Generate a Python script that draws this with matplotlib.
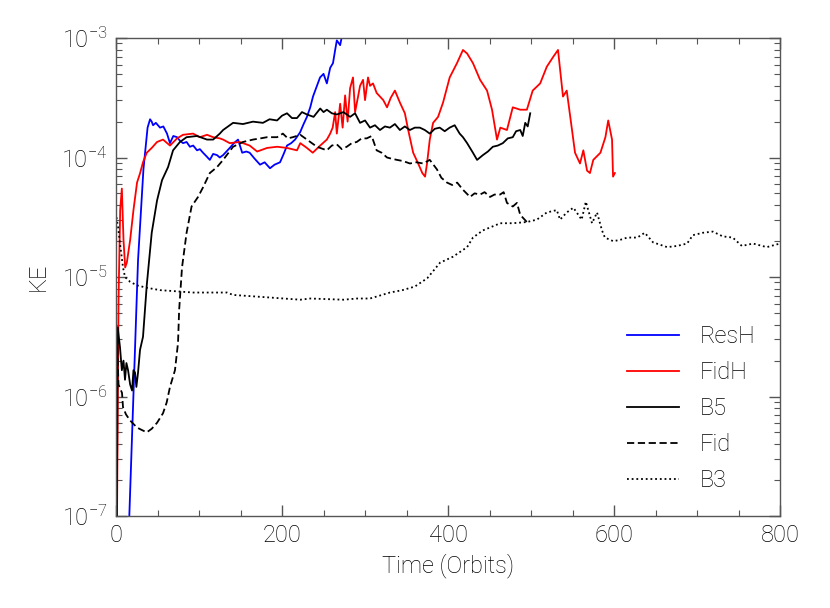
import numpy as np
import matplotlib
matplotlib.use("Agg")
import matplotlib.pyplot as plt

# time in orbits, KE given as log10 values
resh_t = [14, 16, 26.5, 33, 38, 41, 43, 44.6, 48, 53, 57, 61.4, 65, 69, 73.5, 77, 80.7,
          85, 89, 93, 97.6, 101, 104.8, 109, 113, 117, 121.7, 125, 129, 133, 137, 142,
          147, 152, 157, 161, 167, 173.5, 179, 185.5, 191, 197.6, 202, 206, 211, 215.7,
          221.7, 226, 230, 234, 237.3, 241, 245.8, 250, 254, 258, 261.4, 264, 266, 270, 276, 285]
resh_log = [-7.3, -7.0, -4.86, -4.1, -3.75, -3.68, -3.70, -3.73, -3.71, -3.75, -3.74, -3.80,
            -3.88, -3.82, -3.83, -3.86, -3.88, -3.87, -3.91, -3.90, -3.94, -3.93, -3.96,
            -3.99, -4.02, -3.97, -3.98, -4.00, -3.98, -3.95, -3.92, -3.88, -3.85, -3.96,
            -3.95, -3.96, -4.01, -4.06, -4.04, -4.09, -4.06, -4.04, -3.97, -3.90, -3.88,
            -3.85, -3.79, -3.72, -3.66, -3.58, -3.49, -3.42, -3.33, -3.30, -3.38, -3.25,
            -3.21, -3.10, -3.02, -3.06, -2.85, -2.7]

fidh_t = [1, 3, 5, 7, 9, 11, 13, 17, 21, 25.3, 29, 32.5, 37, 43, 49.4, 56.6, 65, 73.5,
          80.7, 92.8, 101, 109.6, 116.9, 125, 129, 137, 149, 161, 170, 182, 194, 206, 218,
          222, 230, 237, 246, 254, 258, 261, 264, 266, 270, 273, 276, 279, 282, 285.5,
          288, 291.6, 294, 297.6, 300, 303.6, 306, 309.6, 314, 318, 322, 326.5, 331, 336,
          342, 348, 352, 358, 364, 369, 372.3, 374.7, 378, 382, 388, 394, 402, 410.8, 418,
          423, 430, 438.6, 447, 453, 459, 463, 471, 478, 487, 495, 502, 511, 519, 526.5,
          532.5, 538.5, 543, 549, 553, 559, 563, 567.5, 571, 575, 583.6, 589.6, 593, 597.6,
          598.8, 601]
fidh_log = [-7.2, -5.2, -4.44, -4.26, -4.69, -4.92, -4.88, -4.69, -4.44, -4.21, -4.13, -4.04,
            -3.96, -3.92, -3.87, -3.85, -3.90, -3.84, -3.81, -3.80, -3.83, -3.81, -3.83,
            -3.84, -3.85, -3.88, -3.87, -3.90, -3.95, -3.92, -3.91, -3.92, -3.94, -3.88,
            -3.92, -3.96, -3.90, -3.85, -3.80, -3.75, -3.62, -3.80, -3.55, -3.75, -3.48,
            -3.70, -3.42, -3.33, -3.62, -3.49, -3.40, -3.35, -3.52, -3.33, -3.40, -3.38,
            -3.46, -3.49, -3.52, -3.58, -3.50, -3.44, -3.54, -3.63, -3.77, -3.96, -4.05,
            -4.13, -4.16, -4.05, -3.85, -3.71, -3.66, -3.54, -3.33, -3.21, -3.10, -3.13,
            -3.21, -3.35, -3.44, -3.60, -3.85, -3.75, -3.77, -3.58, -3.60, -3.60, -3.44,
            -3.38, -3.24, -3.16, -3.10, -3.49, -3.44, -3.75, -3.96, -4.05, -3.94, -4.11,
            -4.13, -4.02, -3.96, -3.83, -3.69, -3.85, -4.16, -4.13]

b5_t = [1, 2, 4.8, 7, 9, 10.8, 12.5, 14.5, 17, 19.3, 21, 22.9, 24.5, 26.5, 28.9, 32.5, 37,
        43, 49.4, 55.4, 62.7, 68.7, 77, 85, 97.6, 109.6, 117, 125, 129, 141, 153, 165, 177,
        185, 194, 200, 206, 212, 218, 224, 230, 238, 246, 250, 254, 260, 266, 274, 282, 288,
        294, 300, 306, 312, 318, 324, 330, 336, 342, 348, 354, 360, 366, 372, 378, 384,
        390, 396, 402, 408, 414, 418, 423, 430, 435, 442, 448, 454, 460, 466, 472, 478,
        482, 487, 490, 493, 496, 499]
b5_log = [-7.0, -5.42, -5.59, -5.78, -5.70, -5.86, -5.72, -5.78, -5.90, -5.95, -5.78, -5.80,
          -5.92, -5.80, -5.61, -5.50, -5.07, -4.63, -4.36, -4.19, -4.08, -3.94, -3.87, -3.83,
          -3.82, -3.85, -3.85, -3.80, -3.77, -3.71, -3.72, -3.70, -3.71, -3.68, -3.69, -3.65,
          -3.63, -3.67, -3.67, -3.62, -3.64, -3.66, -3.59, -3.62, -3.60, -3.63, -3.64, -3.62,
          -3.66, -3.63, -3.71, -3.69, -3.75, -3.73, -3.77, -3.74, -3.75, -3.72, -3.77, -3.74,
          -3.77, -3.75, -3.75, -3.77, -3.80, -3.76, -3.75, -3.78, -3.75, -3.73, -3.80, -3.83,
          -3.88, -3.96, -4.02, -3.98, -3.95, -3.91, -3.90, -3.88, -3.84, -3.83, -3.78, -3.77,
          -3.82, -3.71, -3.74, -3.63]

fid_t = [1, 3, 7.2, 8.4, 12, 16.9, 21, 25.3, 31, 37, 43, 49.4, 56.6, 61, 65, 71, 74.7, 76,
         79.5, 85, 91, 98.8, 104.8, 113, 121.7, 129, 141, 153, 165, 174, 182, 194, 201,
         207, 213, 222, 230, 242, 254, 260, 266, 272, 278, 284, 290, 296, 302, 308, 314,
         320, 326.5, 332, 338.5, 346, 354, 362, 370, 378, 386.7, 392, 398.8, 405, 411, 418,
         426.5, 432, 438.6, 444, 450.6, 456, 462.7, 467, 471, 478, 483, 487, 495]
fid_log = [-5.50, -5.90, -5.97, -6.09, -6.15, -6.20, -6.23, -6.26, -6.28, -6.30, -6.27, -6.22,
           -6.14, -6.05, -5.92, -5.78, -5.55, -5.28, -4.92, -4.63, -4.41, -4.33, -4.25,
           -4.13, -4.08, -4.02, -3.91, -3.87, -3.85, -3.84, -3.83, -3.83, -3.80, -3.84,
           -3.83, -3.81, -3.85, -3.91, -3.94, -3.90, -3.89, -3.93, -3.91, -3.88, -3.87,
           -3.84, -3.84, -3.82, -3.94, -3.96, -4.00, -4.01, -4.02, -4.03, -4.05, -4.04,
           -4.05, -4.02, -4.10, -4.17, -4.21, -4.23, -4.21, -4.27, -4.33, -4.30, -4.31,
           -4.29, -4.33, -4.31, -4.31, -4.29, -4.38, -4.41, -4.38, -4.48, -4.54]

b3_t = [0.5, 2.4, 4.8, 8.4, 10.8, 16.9, 25.3, 37, 53, 73.5, 92.8, 113, 133.7, 141, 182,
        222, 234, 274, 290.4, 306, 330, 345, 360, 375, 390.4, 406, 423, 430, 442, 463, 478,
        495, 507, 519, 531, 535, 543, 551, 561, 566, 573.5, 579.5, 585.5, 589, 599, 607,
        616, 628, 637, 647, 664, 676, 688, 695, 707, 719, 731, 743, 754, 767.5, 784, 800]
b3_log = [-4.50, -4.58, -4.72, -4.92, -5.00, -5.04, -5.07, -5.09, -5.11, -5.12, -5.13, -5.13,
          -5.13, -5.15, -5.17, -5.19, -5.18, -5.19, -5.18, -5.18, -5.13, -5.11, -5.08,
          -5.01, -4.88, -4.83, -4.75, -4.67, -4.61, -4.55, -4.55, -4.54, -4.52, -4.46,
          -4.44, -4.52, -4.46, -4.42, -4.52, -4.37, -4.55, -4.46, -4.61, -4.67, -4.70,
          -4.69, -4.67, -4.67, -4.63, -4.71, -4.75, -4.74, -4.72, -4.65, -4.63, -4.62,
          -4.66, -4.67, -4.74, -4.72, -4.75, -4.72]

series = [
    ("ResH", resh_t, resh_log, "#0000ff", "-"),
    ("FidH", fidh_t, fidh_log, "#ff0000", "-"),
    ("B5", b5_t, b5_log, "black", "-"),
    ("Fid", fid_t, fid_log, "black", (0, (4, 2))),
    ("B3", b3_t, b3_log, "black", (0, (1, 1.6))),
]

plt.rcParams["font.family"] = ["Roboto", "DejaVu Sans"]
plt.rcParams["font.weight"] = "light"
plt.rcParams["axes.labelweight"] = "light"
plt.rcParams["font.size"] = 17

fig = plt.figure(figsize=(8.3, 6.08), dpi=100)
ax = fig.add_axes([0.1398, 0.1513, 0.8, 0.7862])

for name, t, lg, col, ls in series:
    ax.plot(t, 10 ** np.array(lg), color=col, linestyle=ls, lw=1.3, label=name)

ax.set_yscale("log")
ax.set_xlim(0, 800)
ax.set_ylim(1e-7, 1e-3)
ax.set_xticks([0, 200, 400, 600, 800])
ax.set_xticks(np.arange(0, 801, 50), minor=True)
yt = [1e-7, 1e-6, 1e-5, 1e-4, 1e-3]
ax.set_yticks(yt)
ax.set_yticklabels([r"$\mathregular{10^{%d}}$" % e for e in range(-7, -2)])

for s in ax.spines.values():
    s.set_color("#555555")
    s.set_linewidth(1.0)
ax.tick_params(which="both", direction="in", top=True, right=True, color="#555555")
ax.tick_params(which="major", length=8, width=1.0, labelsize=17, pad=6, labelcolor="black")
ax.tick_params(which="minor", length=4, width=0.8)

ax.set_xlabel("Time (Orbits)", fontsize=17, color="black", labelpad=4)
ax.set_ylabel("KE", fontsize=17, color="black", labelpad=8)

leg = ax.legend(loc="lower right", bbox_to_anchor=(0.995, 0.005), frameon=False,
                fontsize=17, handlelength=2.2, handletextpad=0.9, labelspacing=0.55)
for txt in leg.get_texts():
    txt.set_color("black")

fig.savefig("out.png", dpi=100)
